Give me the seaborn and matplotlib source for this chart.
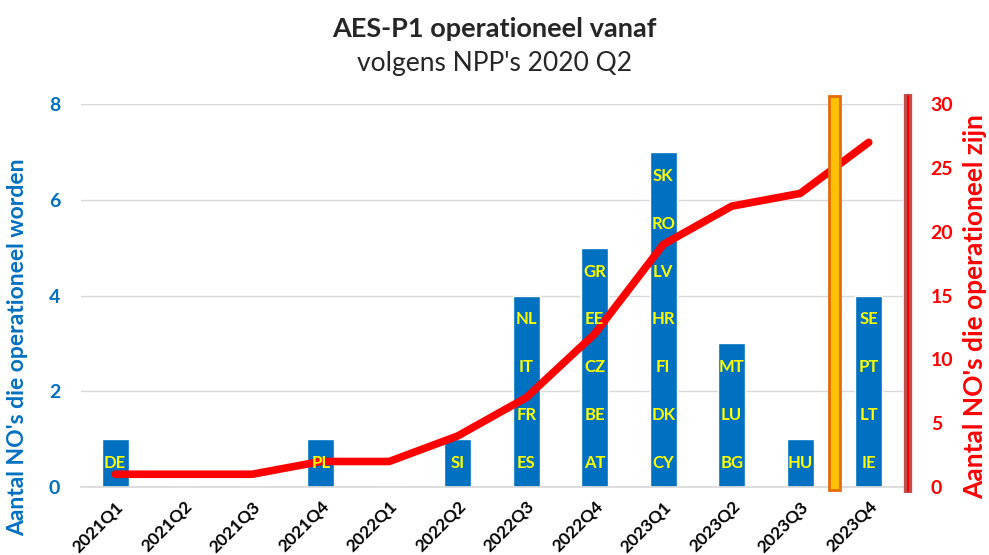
import numpy as np
import matplotlib
matplotlib.use('Agg')
import matplotlib.pyplot as plt
import seaborn as sns

# Data
quarters = ['2021Q1', '2021Q2', '2021Q3', '2021Q4', '2022Q1', '2022Q2',
            '2022Q3', '2022Q4', '2023Q1', '2023Q2', '2023Q3', '2023Q4']
new_count = [1, 0, 0, 1, 0, 1, 4, 5, 7, 3, 1, 4]
cumulative = [1, 1, 1, 2, 2, 4, 7, 12, 19, 22, 23, 27]
countries = [['DE'], [], [], ['PL'], [], ['SI'],
             ['ES', 'FR', 'IT', 'NL'],
             ['AT', 'BE', 'CZ', 'EE', 'GR'],
             ['CY', 'DK', 'FI', 'HR', 'LV', 'RO', 'SK'],
             ['BG', 'LU', 'MT'],
             ['HU'],
             ['IE', 'LT', 'PT', 'SE']]
marker_pos = 10.5  # orange marker between 2023Q3 and 2023Q4

BLUE = '#0070C0'
RED = '#FF0000'

sns.set_theme(style='white')
plt.rcParams['font.family'] = ['Lato', 'DejaVu Sans']

fig = plt.figure(figsize=(9.89, 5.55), dpi=100)
ax = fig.add_axes([0.0819, 0.1225, 0.8311, 0.69])
ax2 = ax.twinx()

# Bars
sns.barplot(x=quarters, y=new_count, color=BLUE, width=0.4, saturation=1, ax=ax)
ax.set_xlim(-0.5, 11.5)
ax.set_ylim(0, 8)
ax.set_yticks([0, 2, 4, 6, 8])
ax.grid(axis='y', color='#D9D9D9', linewidth=1)
ax.set_axisbelow(True)
for s in ['top', 'right', 'left']:
    ax.spines[s].set_visible(False)
ax.spines['bottom'].set_color('#D9D9D9')
ax.tick_params(axis='y', length=0, pad=15, labelsize=14, labelcolor=BLUE)
ax.tick_params(axis='x', length=0, pad=8, labelsize=12.5)
for lab in ax.get_yticklabels():
    lab.set_fontweight('bold')
ax.set_xticks(range(len(quarters)))
ax.set_xticklabels(quarters, rotation=45, ha='right', rotation_mode='anchor',
                   fontweight='bold', color='black')
ax.set_xlabel('')
ax.set_ylabel("Aantal NO's die operationeel worden", color=BLUE, fontsize=16.5,
              fontweight='bold', va='center')
ax.yaxis.set_label_coords(-0.077, 0.365)

# Cumulative line
sns.lineplot(x=np.arange(len(quarters)), y=cumulative, color=RED, linewidth=5.5,
             ax=ax2, zorder=3, solid_capstyle='round', solid_joinstyle='round')
ax2.set_ylim(0, 30)
ax2.set_yticks([0, 5, 10, 15, 20, 25, 30])
for s in ['top', 'right', 'left', 'bottom']:
    ax2.spines[s].set_visible(False)
ax2.tick_params(axis='y', length=0, pad=20, labelsize=14, labelcolor=RED)
for lab in ax2.get_yticklabels():
    lab.set_fontweight('bold')
ax2.set_ylabel("Aantal NO's die operationeel zijn", color=RED, fontsize=19,
               fontweight='bold', rotation=90, va='center')
ax2.yaxis.set_label_coords(1.088, 0.47)

# Country labels inside bars, on top of the line
for i, names in enumerate(countries):
    for j, name in enumerate(names):
        ax2.text(i, j + 0.5, name, transform=ax.transData, ha='center', va='center',
                 color='#FFFF00', fontsize=12, fontweight='bold', zorder=6)

# Orange marker bar
ax2.bar([marker_pos], [30.8], bottom=-0.2, width=0.16, color='#FFC000',
        edgecolor='#E46C0A', linewidth=2, zorder=5, clip_on=False)

# Dark red right axis line
ax2.plot([1.006, 1.006], [-0.016, 1.026], transform=ax2.transAxes, color='#C0504D',
         linewidth=6, clip_on=False, solid_capstyle='butt')
ax2.plot([1.006, 1.006], [-0.01, 1.02], transform=ax2.transAxes, color=RED,
         linewidth=1.5, clip_on=False)

# Titles
fig.text(0.5, 0.948, 'AES-P1 operationeel vanaf', ha='center', va='center',
         fontsize=19.5, fontweight='bold')
fig.text(0.5, 0.886, "volgens NPP's 2020 Q2", ha='center', va='center', fontsize=19)

plt.savefig('out.png', dpi=100)
